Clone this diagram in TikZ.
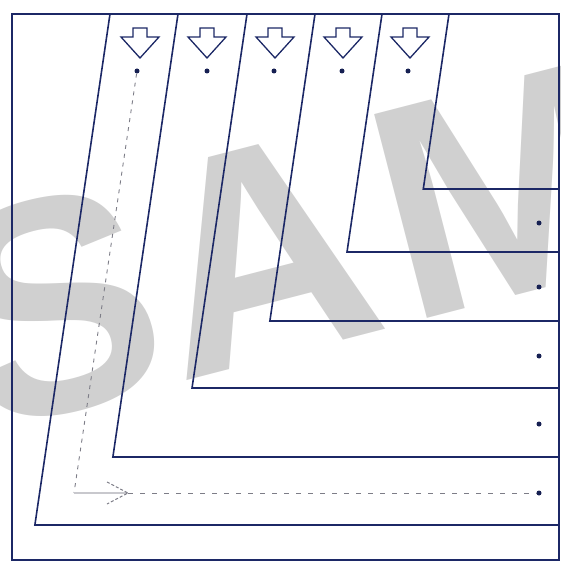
\documentclass[tikz,border=0pt]{standalone}
\usepackage{fontspec}
\setmainfont{Liberation Sans}
\usetikzlibrary{calc}
\definecolor{navy}{RGB}{28,40,102}
\definecolor{wmgrey}{RGB}{208,208,208}
\definecolor{flowgrey}{RGB}{125,125,135}
\definecolor{flowlight}{RGB}{200,200,205}
\begin{document}
\begin{tikzpicture}[x=1pt,y=-1pt,
  framebox/.style={draw=navy,line width=1.4pt},
  wall/.style={draw=navy,line width=1.6pt,line join=miter},
  blockarrow/.style={draw=navy,line width=1.3pt,line join=miter,fill=white},
  dotnode/.style={circle,fill=navy!80!black,inner sep=0pt,minimum size=5pt},
  flowdash/.style={draw=flowgrey,line width=0.9pt,dash pattern=on 4pt off 5pt},
  flowsolid/.style={draw=flowlight,line width=1.2pt},
  wmtext/.style={text=wmgrey,inner sep=0pt,font=\fontsize{306}{306}\selectfont\bfseries}]
\useasboundingbox (0,0) rectangle (561,561);
% watermark
\begin{scope}
  \clip (0,0) rectangle (561,561);
  \node[wmtext,rotate=14.5,anchor=base west] (wmark) at (-18.5,434) {SA\kern15pt MPLE};
\end{scope}
% frame
\draw[framebox] (12,14) rectangle (559,560);
% nested walls
\foreach \t/\h [count=\i] in {110/525,178/457,247/388,315/321,382/252,449/189}{
  \pgfmathsetmacro\cx{\t-0.147*(\h-14)}
  \coordinate (wt\i) at (\t,14);
  \coordinate (wc\i) at (\cx,\h);
  \coordinate (we\i) at (559,\h);
  \draw[wall] (wt\i) -- (wc\i) -- (we\i);
}
% block arrows at top
\foreach \c [count=\i] in {140,207,275,343,410}{
  \draw[blockarrow] (\c-7,28) -- (\c+7,28) -- (\c+7,37) -- (\c+19,37) -- (\c,58)
     -- (\c-19,37) -- (\c-7,37) -- cycle;
}
% top dots
\foreach \c [count=\i] in {137,207,274,342,408}{
  \node[dotnode] (d\i) at (\c,71) {};
}
% right dots
\foreach \y [count=\i] in {223,287,356,424,493}{
  \node[dotnode] (r\i) at (539,\y) {};
}
% flow path
\coordinate (bend) at (74,493);
\coordinate (tipA) at (128,493);
\draw[flowdash] (d1) -- (bend);
\draw[flowsolid] (bend) -- (tipA);
\draw[flowdash,dash pattern=on 5pt off 7pt] (tipA) -- (r5);
\draw[flowgrey,line width=1pt,dash pattern=on 3pt off 2pt] ($(tipA)+(-21,-11)$) -- (tipA) -- ($(tipA)+(-21,11)$);
\end{tikzpicture}
\end{document}
